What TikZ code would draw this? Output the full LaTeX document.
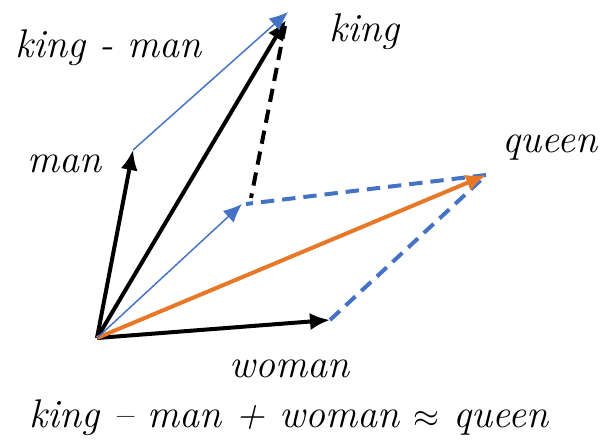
\documentclass[tikz,border=0pt]{standalone}
\usetikzlibrary{arrows.meta}

\definecolor{vecblue}{RGB}{68,114,196}
\definecolor{vecorange}{RGB}{230,120,40}

\begin{document}
\begin{tikzpicture}[
        x=0.75pt, y=-0.75pt,
        font=\fontsize{30}{33}\selectfont\itshape,
        >={Latex[length=15pt,width=13pt]},
        wordarr/.style={->, line width=3pt, draw=black},
        diffarr/.style={-{Latex[length=14pt,width=12pt]}, line width=1.1pt, draw=vecblue, fill=vecblue},
        sumarr/.style={->, line width=3pt, draw=vecorange},
        blackdash/.style={line width=3pt, draw=black, dash pattern=on 10pt off 6pt},
        bluedash/.style={line width=3pt, draw=vecblue, dash pattern=on 10pt off 6pt},
        word/.style={inner sep=0pt}
    ]
    \useasboundingbox (0,0) rectangle (603,448);

    % vector end points
    \coordinate (o)     at (97,338);
    \coordinate (man)   at (133,150);
    \coordinate (king)  at (288,12);
    \coordinate (kmm)   at (242,204);
    \coordinate (queen) at (486,175);
    \coordinate (woman) at (330,320);

    % labels
    \node[word] (lkingman) at (108,48)  {king - man};
    \node[word] (lking)    at (364,32)  {king};
    \node[word] (lman)     at (64,164)  {man};
    \node[word] (lqueen)   at (550,148) {queen};
    \node[word] (lwoman)   at (289,369) {woman};
    \node[word] (lsum)     at (289,418) {king -- man + woman $\approx$ queen};

    % dashed helpers
    \draw[blackdash] ([shift={(-3,14)}]king) -- ([shift={(9,-6)}]kmm);
    \draw[bluedash]  (queen) -- ([shift={(4,0)}]kmm);
    \draw[bluedash]  (woman) -- ([shift={(-4,4)}]queen);

    % word vectors
    \draw[wordarr] (o) -- (man);
    \draw[wordarr] (o) -- ([shift={(-2,8)}]king);
    \draw[wordarr] (o) -- (woman);
    \draw[sumarr]  (o) -- (queen);

    % difference vectors
    \draw[diffarr] (man) -- (king);
    \draw[diffarr] (o) -- (kmm);

\end{tikzpicture}
\end{document}
